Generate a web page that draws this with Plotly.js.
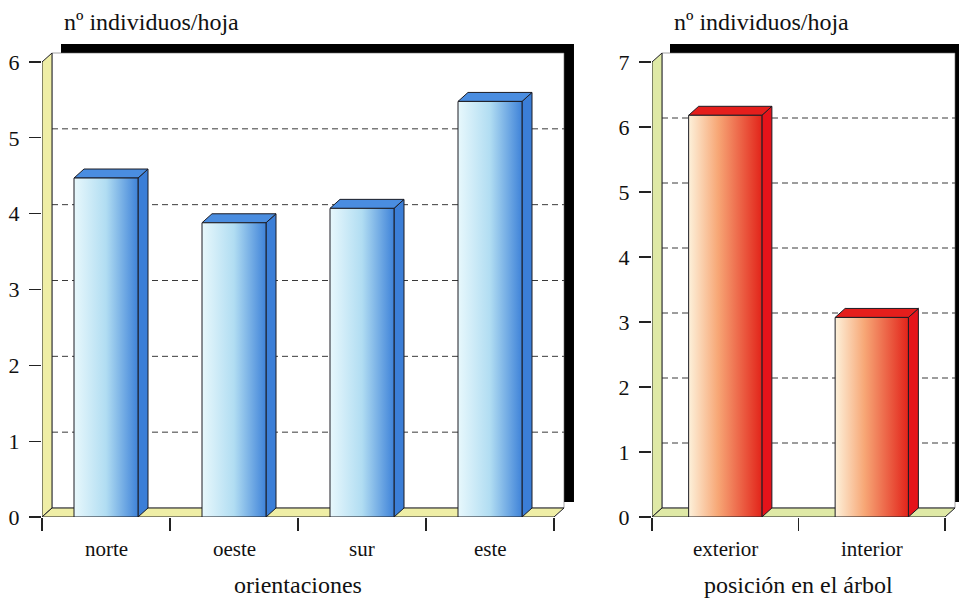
<!DOCTYPE html>
<html>
<head>
<meta charset="utf-8">
<script src="https://cdn.plot.ly/plotly-3.0.1.min.js"></script>
<style>html,body{margin:0;padding:0;background:#fff;}#chart{width:959px;height:599px;}</style>
</head>
<body>
<div id="chart"></div>
<script>
// ---- data ----
const categoriesA = ['norte', 'oeste', 'sur', 'este'];
const valuesA = [4.47, 3.88, 4.07, 5.48];
const yTicksA = [0, 1, 2, 3, 4, 5, 6];
const titleXA = 'orientaciones';

const categoriesB = ['exterior', 'interior'];
const valuesB = [6.18, 3.07];
const yTicksB = [0, 1, 2, 3, 4, 5, 6, 7];
const titleXB = 'posición en el árbol';

const titleY = 'nº individuos/hoja';

// ---- layout constants (pixels) ----
const W = 959, H = 599;
const FONT = 'Liberation Serif, DejaVu Serif, serif';
const TOP_PX = 44;          // top of the drawing area (shadow top)
const DEPTH_X = 10, DEPTH_Y = 9, SHADOW = 9.5;

const panels = [
  {xa: 'x', ya: 'y', cats: categoriesA, vals: valuesA, ticks: yTicksA, title: titleXA,
   pxL: 42, pxR: 554, pxTop: 62, pxBottom: 517, pxEnd: 574, shadowStart: 19,
   wall: '#efeea6', front: [[0, '#e8f8fc'], [0.5, '#b1ddf2'], [1, '#3f83d9']],
   side: '#3b7ed7', top: '#4a8de0'},
  {xa: 'x2', ya: 'y2', cats: categoriesB, vals: valuesB, ticks: yTicksB, title: titleXB,
   pxL: 652, pxR: 945, pxTop: 62, pxBottom: 517, pxEnd: 959, shadowStart: 18,
   wall: '#dfe9a6', front: [[0, '#fdf1da'], [0.4, '#f7a776'], [1, '#e2241a']],
   side: '#e5131a', top: '#e51e1c'}
];

const traces = [];
const annotations = [];
const layout = {
  width: W, height: H,
  margin: {l: 0, r: 0, t: 0, b: 0},
  paper_bgcolor: '#ffffff', plot_bgcolor: 'rgba(0,0,0,0)',
  showlegend: false, hovermode: false,
  font: {family: FONT, color: '#111'}
};

function poly(p, xs, ys, opts) {
  traces.push(Object.assign({
    type: 'scatter', mode: 'lines', xaxis: p.xa, yaxis: p.ya,
    x: xs.concat([xs[0]]), y: ys.concat([ys[0]]),
    fill: 'toself', hoverinfo: 'skip', showlegend: false
  }, opts));
}

panels.forEach((p, pi) => {
  const n = p.cats.length;
  const ymax = p.ticks[p.ticks.length - 1];
  const ux = (p.pxR - p.pxL) / n;
  const uy = (p.pxBottom - p.pxTop) / ymax;
  const dx = DEPTH_X / ux, dy = DEPTH_Y / uy;
  const sx = SHADOW / ux * 1.05, sy = SHADOW / uy;
  const x0 = -0.5, x1 = n - 0.5;
  const edge = {color: '#1c1c24', width: 1};
  const none = {color: 'rgba(0,0,0,0)', width: 0};

  // black shadow (top and right)
  const sxs = x0 + p.shadowStart / ux;
  poly(p, [sxs, x1 + dx + sx, x1 + dx + sx, x1 + dx, x1 + dx, sxs],
          [ymax + dy + sy, ymax + dy + sy, dy + 6 / uy, dy + 6 / uy, ymax + dy, ymax + dy],
       {fillcolor: '#000000', line: none});
  // back wall
  poly(p, [x0 + dx, x1 + dx, x1 + dx, x0 + dx], [dy, dy, ymax + dy, ymax + dy],
       {fillcolor: '#ffffff', line: {color: '#666', width: 0.6}});
  // dashed grid on back wall
  p.ticks.filter(t => t > 0 && t < ymax).forEach(t => {
    traces.push({type: 'scatter', mode: 'lines', xaxis: p.xa, yaxis: p.ya,
      x: [x0 + dx, x1 + dx], y: [t + dy, t + dy], hoverinfo: 'skip', showlegend: false,
      line: {color: '#3a3a3a', width: 1, dash: '6px,4px'}});
  });
  // left wall
  poly(p, [x0, x0, x0 + dx, x0 + dx], [0, ymax, ymax + dy, dy], {fillcolor: p.wall, line: edge});
  // floor
  poly(p, [x0, x1, x1 + dx, x0 + dx], [0, 0, dy, dy], {fillcolor: p.wall, line: edge});

  // bars
  const bw = 0.5;
  p.vals.forEach((v, i) => {
    const l = i - bw / 2, r = i + bw / 2;
    poly(p, [r, r, r + dx, r + dx], [0, v, v + dy, dy], {fillcolor: p.side, line: edge});
    poly(p, [l, r, r + dx, l + dx], [v, v, v + dy, v + dy], {fillcolor: p.top, line: edge});
    poly(p, [l, r, r, l], [0, 0, v, v], {
      fillcolor: p.front[1][1],
      fillgradient: {type: 'horizontal', colorscale: p.front},
      line: edge});
    annotations.push({xref: p.xa, yref: 'paper', x: i, y: (H - 549) / H,
      xanchor: 'center', yanchor: 'middle', showarrow: false, text: p.cats[i],
      font: {family: FONT, size: 21, color: '#111'}});
  });

  // axes
  const xName = pi === 0 ? 'xaxis' : 'xaxis2';
  const yName = pi === 0 ? 'yaxis' : 'yaxis2';
  const boundaries = [];
  for (let k = 0; k <= n; k++) boundaries.push(k - 0.5);
  layout[xName] = {
    domain: [p.pxL / W, p.pxEnd / W], anchor: p.ya,
    range: [x0, x0 + (p.pxEnd - p.pxL) / ux],
    tickmode: 'array', tickvals: boundaries, showticklabels: false,
    ticks: 'outside', ticklen: 13, tickwidth: 1.3, tickcolor: '#222',
    showgrid: false, zeroline: false, showline: false, fixedrange: true
  };
  layout[yName] = {
    domain: [(H - p.pxBottom) / H, (H - TOP_PX) / H], anchor: p.xa,
    range: [0, (p.pxBottom - TOP_PX) / uy],
    tickmode: 'array', tickvals: p.ticks, ticktext: p.ticks.map(String),
    ticks: 'outside', ticklen: 12, tickwidth: 1.3, tickcolor: '#222',
    ticklabelstandoff: 5,
    tickfont: {family: FONT, size: 22, color: '#111'},
    showgrid: false, zeroline: false, showline: false, fixedrange: true
  };

  annotations.push({xref: 'paper', yref: 'paper', x: (p.pxL + 20) / W, y: (H - 22) / H,
    xanchor: 'left', yanchor: 'middle', showarrow: false, text: titleY,
    font: {family: FONT, size: 24, color: '#111'}});
  annotations.push({xref: p.xa, yref: 'paper', x: (n - 1) / 2, y: (H - 585) / H,
    xanchor: 'center', yanchor: 'middle', showarrow: false, text: p.title,
    font: {family: FONT, size: 24, color: '#111'}});
});

layout.annotations = annotations;
Plotly.newPlot('chart', traces, layout, {displayModeBar: false, staticPlot: true});
</script>
</body>
</html>
